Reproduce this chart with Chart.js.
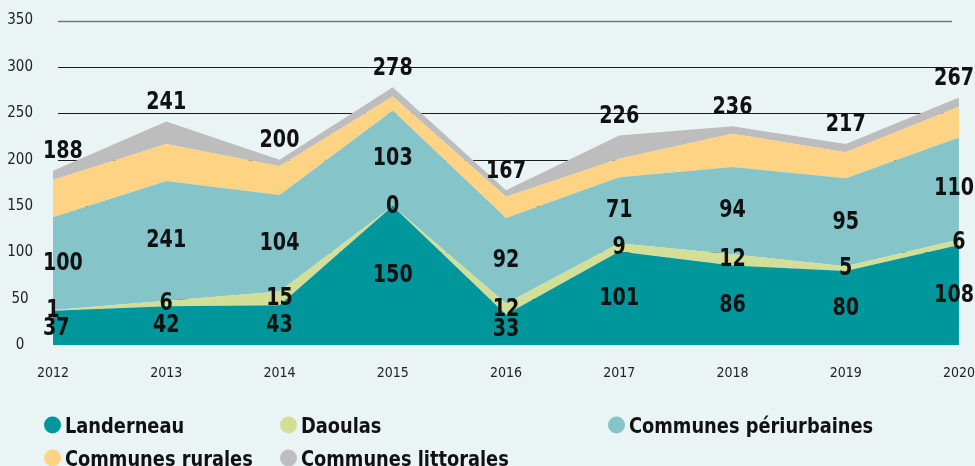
<!DOCTYPE html>
<html>
<head>
<meta charset="utf-8">
<script src="https://cdn.jsdelivr.net/npm/chart.js@4.4.0/dist/chart.umd.min.js"></script>
<style>
  html, body { margin: 0; padding: 0; background: #eaf4f5; }
  #wrap { position: relative; width: 975px; height: 466px; overflow: hidden; }
  #c { position: absolute; left: 0; top: 0; }
  #legend { position: absolute; left: 0; top: 0; width: 975px; height: 466px; pointer-events: none;
            font-family: "Liberation Sans Narrow", "DejaVu Sans Condensed", "Liberation Sans", sans-serif; }
  .item { position: absolute; display: flex; align-items: center; white-space: nowrap; transform: translateY(-50%); }
  .dot { width: 17px; height: 17px; border-radius: 50%; margin-right: 4px; flex: none; }
  .lbl { font-weight: bold; font-size: 22px; color: #111; transform: scaleX(0.9); transform-origin: left center; }
</style>
</head>
<body>
<div id="wrap">
  <canvas id="c" width="975" height="466"></canvas>
  <div id="legend"></div>
</div>
<script>
// ---- Data ----
const categories = ['2012', '2013', '2014', '2015', '2016', '2017', '2018', '2019', '2020'];
const landerneau   = [37, 42, 43, 150, 33, 101, 86, 80, 108];
const daoulas      = [1, 6, 15, 0, 12, 9, 12, 5, 6];
const periurbaines = [100, 129, 104, 103, 92, 71, 94, 95, 110];
const periurbainesLabels = ['100', '241', '104', '103', '92', '71', '94', '95', '110'];
const rurales      = [40, 40, 31, 15, 23, 20, 36, 28, 33];
const littorales   = [10, 24, 7, 10, 7, 25, 8, 9, 10];
const yTicks = { min: 0, max: 350, step: 50 };

const FONT = '"Liberation Sans Narrow", "DejaVu Sans Condensed", "Liberation Sans", sans-serif';

const gridPlugin = {
  id: 'customGrid',
  beforeDatasetsDraw(chart) {
    const { ctx, chartArea: a, scales: { y } } = chart;
    ctx.save();
    y.ticks.forEach(t => {
      if (t.value === 0) return;
      const py = Math.round(y.getPixelForValue(t.value)) + 0.5;
      const top = t.value === y.max;
      ctx.strokeStyle = top ? '#777777' : '#1c1c1c';
      ctx.lineWidth = top ? 1.5 : 1;
      ctx.beginPath();
      ctx.moveTo(a.left + 5, py);
      ctx.lineTo(a.right - 7, py);
      ctx.stroke();
    });
    ctx.restore();
  }
};

const labelPlugin = {
  id: 'valueLabels',
  afterDatasetsDraw(chart) {
    const { ctx, chartArea: a, scales: { x, y } } = chart;
    ctx.save();
    ctx.fillStyle = '#111';
    ctx.textAlign = 'center';
    ctx.textBaseline = 'middle';
    ctx.font = 'bold 25px ' + FONT;
    const sx = 0.85;
    const draw = (text, px, py) => {
      const w = ctx.measureText(text).width * sx;
      px = Math.max(px, a.left - 10 + w / 2);
      px = Math.min(px, chart.width - 1 - w / 2);
      ctx.save();
      ctx.translate(px, py);
      ctx.scale(sx, 1);
      ctx.fillText(text, 0, 0);
      ctx.restore();
    };
    categories.forEach((c, j) => {
      const px = x.getPixelForValue(j);
      let base = 0;
      chart.data.datasets.forEach(ds => {
        const v = ds.data[j];
        if (ds.showValue) {
          const txt = ds.valueLabels ? ds.valueLabels[j] : String(v);
          draw(txt, px, y.getPixelForValue(base + v / 2));
        }
        base += v;
      });
      draw(String(base), px, y.getPixelForValue(base) - 19);
    });
    ctx.restore();
  }
};

const mk = (label, data, color, fill, showValue, valueLabels) => ({
  label, data, backgroundColor: color, borderColor: color, borderWidth: 0,
  pointRadius: 0, pointHoverRadius: 0, tension: 0, fill, showValue, valueLabels
});

const chart = new Chart(document.getElementById('c'), {
  type: 'line',
  data: {
    labels: categories,
    datasets: [
      mk('Landerneau', landerneau, '#00979c', 'origin', true),
      mk('Daoulas', daoulas, '#d3df96', '-1', true),
      mk('Communes périurbaines', periurbaines, '#85c5c9', '-1', true, periurbainesLabels),
      mk('Communes rurales', rurales, '#fed484', '-1', false),
      mk('Communes littorales', littorales, '#bdbdbd', '-1', false)
    ]
  },
  options: {
    responsive: false,
    animation: false,
    layout: { padding: { top: 20.5, right: 13, bottom: 84, left: 0 } },
    plugins: { legend: { display: false }, tooltip: { enabled: false } },
    scales: {
      x: {
        type: 'category',
        offset: false,
        grid: { display: false, drawTicks: true, tickLength: 20 },
        border: { display: false },
        ticks: { padding: 0, autoSkip: false, maxRotation: 0, color: '#222',
                 font: { family: FONT, size: 14 } }
      },
      y: {
        stacked: true,
        min: yTicks.min, max: yTicks.max,
        grid: { display: false, drawTicks: true, tickLength: 20 },
        border: { display: false },
        afterFit(scale) { scale.width = 53; },
        ticks: { stepSize: yTicks.step, padding: 0, crossAlign: 'center', color: '#222',
                 font: { family: FONT, size: 15 } }
      }
    }
  },
  plugins: [gridPlugin, labelPlugin]
});

// HTML legend built from the chart's datasets
const legendCols = [44, 280, 608];
const legendRows = [425, 458];
const legend = document.getElementById('legend');
chart.data.datasets.forEach((ds, i) => {
  const row = i < 3 ? 0 : 1;
  const col = i < 3 ? i : i - 3;
  const item = document.createElement('div');
  item.className = 'item';
  item.style.left = legendCols[col] + 'px';
  item.style.top = legendRows[row] + 'px';
  const dot = document.createElement('span');
  dot.className = 'dot';
  dot.style.background = ds.backgroundColor;
  const lbl = document.createElement('span');
  lbl.className = 'lbl';
  lbl.textContent = ds.label;
  item.appendChild(dot);
  item.appendChild(lbl);
  legend.appendChild(item);
});
</script>
</body>
</html>
